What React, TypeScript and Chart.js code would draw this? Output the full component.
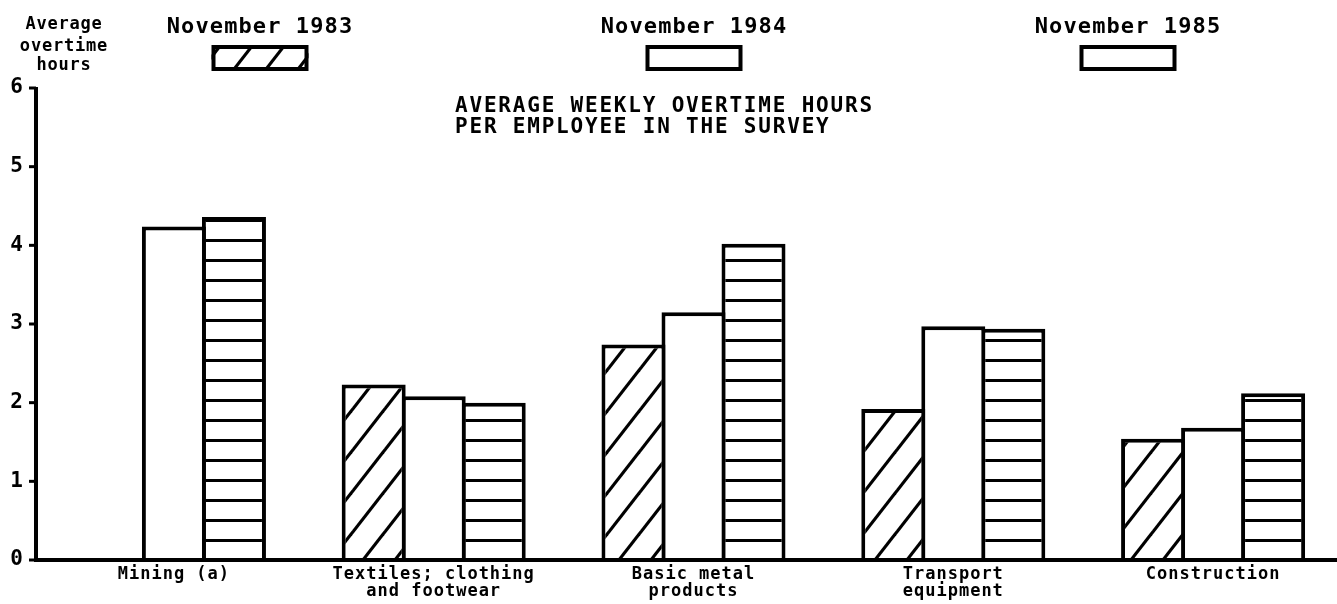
import React, { useEffect, useRef } from "react";
import { Chart, registerables } from "chart.js";

Chart.register(...registerables);

// ---------- data ----------
const categories: string[][] = [
  ["Mining (a)"],
  ["Textiles; clothing", "and footwear"],
  ["Basic metal", "products"],
  ["Transport", "equipment"],
  ["Construction"],
];
const seriesLabels = ["November 1983", "November 1984", "November 1985"];
const nov1983: (number | null)[] = [null, 2.23, 2.74, 1.92, 1.54];
const nov1984: (number | null)[] = [4.24, 2.08, 3.15, 2.97, 1.68];
const nov1985: (number | null)[] = [4.36, 2.0, 4.02, 2.94, 2.12];
const yTicks = [0, 1, 2, 3, 4, 5, 6];
const yTitleLines = ["Average", "overtime", "hours"];
const titleLines = ["AVERAGE WEEKLY OVERTIME HOURS", "PER EMPLOYEE IN THE SURVEY"];

const MONO = '"DejaVu Sans Mono", "Liberation Mono", monospace';

function makeDiagonalPattern(ctx: CanvasRenderingContext2D): CanvasPattern {
  const W = 32, H = 41;
  const c = document.createElement("canvas");
  c.width = W; c.height = H;
  const g = c.getContext("2d")!;
  g.fillStyle = "#fff";
  g.fillRect(0, 0, W, H);
  g.strokeStyle = "#000";
  g.lineWidth = 3.2;
  for (const k of [-1, 0, 1]) {
    g.beginPath();
    g.moveTo(k * W - W, 2 * H);
    g.lineTo(k * W + 2 * W, -H);
    g.stroke();
  }
  return ctx.createPattern(c, "repeat")!;
}

function makeHorizontalPattern(ctx: CanvasRenderingContext2D): CanvasPattern {
  const W = 8, H = 20;
  const c = document.createElement("canvas");
  c.width = W; c.height = H;
  const g = c.getContext("2d")!;
  g.fillStyle = "#fff";
  g.fillRect(0, 0, W, H);
  g.fillStyle = "#000";
  g.fillRect(0, 0, W, 2);
  g.fillRect(0, 19, W, 1);
  return ctx.createPattern(c, "repeat")!;
}

const decorPlugin = {
  id: "decor",
  beforeDraw(chart: any) {
    const ctx = chart.ctx as any;
    ctx.letterSpacing = "1px";
  },
  afterDraw(chart: any) {
    const ctx = chart.ctx as any;
    const area = chart.chartArea;
    const yScale = chart.scales.y;
    const axisX = area.left - 8;
    const yZero = yScale.getPixelForValue(0);
    const yTop = yScale.getPixelForValue(6);
    ctx.save();
    ctx.strokeStyle = "#000";
    ctx.fillStyle = "#000";
    ctx.lineWidth = 4;
    ctx.lineCap = "butt";
    // x axis
    ctx.beginPath();
    ctx.moveTo(axisX - 2, yZero);
    ctx.lineTo(chart.width, yZero);
    ctx.stroke();
    // y axis
    ctx.beginPath();
    ctx.moveTo(axisX, yZero);
    ctx.lineTo(axisX, yTop - 1);
    ctx.stroke();
    // y tick marks
    ctx.lineWidth = 3;
    for (const v of yTicks) {
      const y = yScale.getPixelForValue(v);
      ctx.beginPath();
      ctx.moveTo(axisX - 7, y);
      ctx.lineTo(axisX, y);
      ctx.stroke();
    }

    // y title
    ctx.font = `bold 17px ${MONO}`;
    ctx.letterSpacing = "0.8px";
    ctx.textAlign = "center";
    ctx.textBaseline = "alphabetic";
    const yTitleBase = [29, 51, 70];
    yTitleLines.forEach((t, i) => ctx.fillText(t, 64, yTitleBase[i]));

    // chart title
    ctx.font = `bold 21px ${MONO}`;
    ctx.letterSpacing = "1.8px";
    ctx.textAlign = "left";
    ctx.fillText(titleLines[0], 455, 112);
    ctx.fillText(titleLines[1], 455, 133);

    // legend: label above box
    const centers = [260, 694, 1128];
    const boxW = 97, boxH = 26, boxTop = 45;
    chart.data.datasets.forEach((ds: any, i: number) => {
      const cx = centers[i];
      ctx.font = `bold 22px ${MONO}`;
      ctx.letterSpacing = "1.1px";
      ctx.textAlign = "center";
      ctx.fillText(ds.label, cx, 33);
      const x0 = cx - boxW / 2;
      ctx.fillStyle = ds.legendHatch ? ds.backgroundColor : "#fff";
      ctx.fillRect(x0, boxTop, boxW, boxH);
      ctx.fillStyle = "#000";
      ctx.lineWidth = 4;
      ctx.strokeRect(x0 + 2, boxTop + 2, boxW - 4, boxH - 4);
    });
    ctx.restore();
    ctx.letterSpacing = "0px";
  },
};

export default function App() {
  const canvasRef = useRef<HTMLCanvasElement | null>(null);

  useEffect(() => {
    const canvas = canvasRef.current;
    if (!canvas) return;
    const ctx = canvas.getContext("2d")!;
    const diag = makeDiagonalPattern(ctx);
    const horiz = makeHorizontalPattern(ctx);

    const common = {
      borderColor: "#000",
      borderWidth: 4,
      borderSkipped: "bottom",
      categoryPercentage: 0.693,
      barPercentage: 1.0667,
    };

    const chart = new Chart(ctx, {
      type: "bar",
      data: {
        labels: categories,
        datasets: [
          { ...common, label: seriesLabels[0], data: nov1983, backgroundColor: diag, legendHatch: true } as any,
          { ...common, label: seriesLabels[1], data: nov1984, backgroundColor: "#fff", legendHatch: false } as any,
          { ...common, label: seriesLabels[2], data: nov1985, backgroundColor: horiz, legendHatch: false } as any,
        ],
      },
      options: {
        responsive: false,
        animation: false,
        devicePixelRatio: 1,
        layout: { padding: { top: 88, left: 0, right: 7, bottom: 0 } },
        plugins: {
          legend: { display: false },
          tooltip: { enabled: false },
          title: { display: false },
        },
        scales: {
          x: {
            type: "category",
            offset: true,
            grid: { display: false, drawTicks: false },
            border: { display: false },
            ticks: {
              color: "#000",
              font: { family: MONO, size: 17, weight: "bold", lineHeight: 1.0 },
              padding: 6,
              maxRotation: 0,
              minRotation: 0,
              autoSkip: false,
            },
            afterFit: (s: any) => { s.height = 44; },
          },
          y: {
            min: 0,
            max: 6,
            grid: { display: false, drawTicks: false },
            border: { display: false },
            ticks: {
              stepSize: 1,
              color: "#000",
              font: { family: MONO, size: 21, weight: "bold" },
              padding: 20,
            },
            afterBuildTicks: (s: any) => { s.ticks = yTicks.map((v) => ({ value: v })); },
            afterFit: (s: any) => { s.width = 44; },
          },
        },
      } as any,
      plugins: [decorPlugin],
    });

    return () => chart.destroy();
  }, []);

  return (
    <div
      style={{
        position: "absolute",
        left: 0,
        top: 0,
        width: 1337,
        height: 604,
        overflow: "hidden",
        background: "#fff",
      }}
    >
      <canvas ref={canvasRef} width={1350} height={604} style={{ display: "block" }} />
    </div>
  );
}
